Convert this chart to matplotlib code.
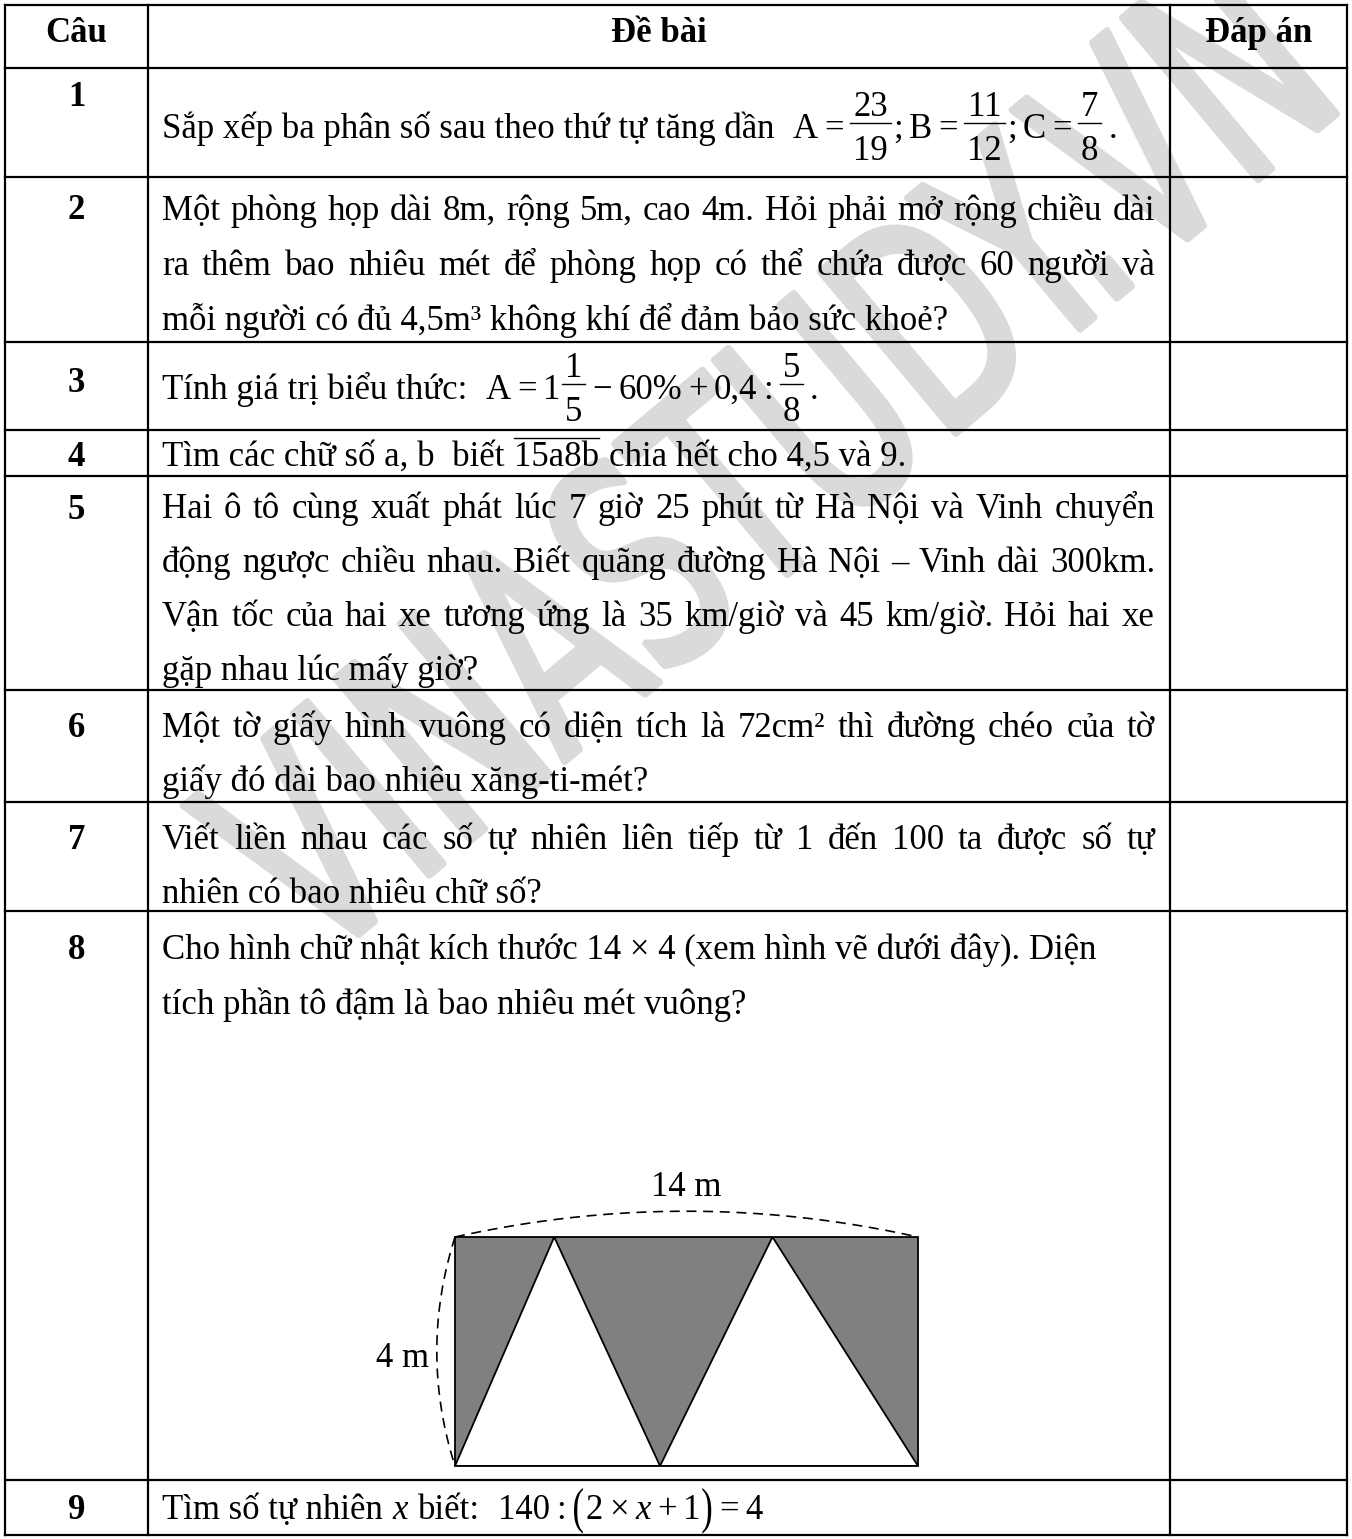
import numpy as np
import matplotlib.pyplot as plt
from matplotlib.textpath import TextPath
from matplotlib.patches import PathPatch, Polygon, Rectangle
from matplotlib.font_manager import FontProperties
from matplotlib.transforms import Affine2D

plt.rcParams['font.family'] = 'Liberation Serif'

W, H = 1352, 1539
FS = 25
EM = FS * 100 / 72

headers = ['Câu', 'Đề bài', 'Đáp án']
numbers = ['1', '2', '3', '4', '5', '6', '7', '8', '9']

# table layout (pixels)
col_edges = [5, 148, 1170, 1347]
row_edges = [5, 68, 177, 342, 430, 476, 690, 802, 911, 1480, 1535]

q1 = [('t', 'Sắp xếp ba phân số sau theo thứ tự tăng dần  '), ('m', 'A = '), ('f', '23', '19'),
      ('m', '; B = '), ('f', '11', '12'), ('m', '; C = '), ('f', '7', '8'), ('m', ' .')]
q2 = ['Một phòng họp dài 8m, rộng 5m, cao 4m. Hỏi phải mở rộng chiều dài',
      'ra thêm bao nhiêu mét để phòng họp có thể chứa được 60 người và',
      'mỗi người có đủ 4,5m³ không khí để đảm bảo sức khoẻ?']
q3 = [('t', 'Tính giá trị biểu thức:  '), ('m', 'A = 1'), ('f', '1', '5'),
      ('m', ' − 60% + 0,4 : '), ('f', '5', '8'), ('m', ' .')]
q4 = [('t', 'Tìm các chữ số a, b  biết '), ('o', '15a8b'), ('t', ' chia hết cho 4,5 và 9.')]
q5 = ['Hai ô tô cùng xuất phát lúc 7 giờ 25 phút từ Hà Nội và Vinh chuyển',
      'động ngược chiều nhau. Biết quãng đường Hà Nội – Vinh dài 300km.',
      'Vận tốc của hai xe tương ứng là 35 km/giờ và 45 km/giờ. Hỏi hai xe',
      'gặp nhau lúc mấy giờ?']
q6 = ['Một tờ giấy hình vuông có diện tích là 72cm² thì đường chéo của tờ',
      'giấy đó dài bao nhiêu xăng-ti-mét?']
q7 = ['Viết liền nhau các số tự nhiên liên tiếp từ 1 đến 100 ta được số tự',
      'nhiên có bao nhiêu chữ số?']
q8 = ['Cho hình chữ nhật kích thước 14 × 4 (xem hình vẽ dưới đây). Diện',
      'tích phần tô đậm là bao nhiêu mét vuông?']
q9 = [('t', 'Tìm số tự nhiên '), ('i', 'x'), ('t', ' biết:  '), ('m', '140 : '), ('p', '('),
      ('m', '2 × '), ('i', 'x'), ('m', ' + 1'), ('p', ')'), ('m', ' = 4')]

# figure for question 8 (metres)
rect_w, rect_h = 14, 4
bottom_x = [0, 6.2, 14]
top_x = [3.0, 9.6]
labels_fig = ['14 m', '4 m']

fig = plt.figure(figsize=(W / 100, H / 100), dpi=100)
ax = fig.add_axes([0, 0, 1, 1])
ax.set_xlim(0, W)
ax.set_ylim(H, 0)
ax.axis('off')
renderer = fig.canvas.get_renderer()
serif = FontProperties(family='Liberation Serif')


def put(x, y, s, ha='left', **kw):
    kw.setdefault('fontsize', FS)
    return ax.text(x, y, s, ha=ha, va='baseline', zorder=3, **kw)


def width(s, **kw):
    t = put(0, 0, s, **kw)
    w = t.get_window_extent(renderer).width
    t.remove()
    return w


SPACE = width('n n') - width('nn')


def draw_runs(x, y, runs):
    for kind, *val in runs:
        if kind in ('t', 'i', 'o'):
            s = val[0]
            kw = {'style': 'italic'} if kind == 'i' else {}
            lead = len(s) - len(s.lstrip(' '))
            trail = len(s) - len(s.rstrip(' '))
            core = s.strip(' ')
            x += lead * SPACE
            if core:
                put(x, y, core, **kw)
                w = width(core, **kw)
                if kind == 'o':
                    ax.plot([x, x + w], [y - 0.8 * EM, y - 0.8 * EM], color='k', lw=1, zorder=3)
                x += w + 1
            x += trail * SPACE
        elif kind == 'm':
            for k, tok in enumerate(val[0].split(' ')):
                if k > 0:
                    x += 0.6 * SPACE
                if tok:
                    put(x, y, tok)
                    x += width(tok) + 1
        elif kind == 'f':
            num, den = val
            wb = max(width(num), width(den)) + 6
            bar = y - 0.42 * EM
            ax.plot([x, x + wb], [bar, bar], color='k', lw=1, zorder=3)
            put(x + wb / 2, bar - 0.22 * EM, num, ha='center')
            put(x + wb / 2, bar + 1.05 * EM, den, ha='center')
            x += wb + 2
        elif kind == 'p':
            p = TextPath((0, 0), val[0], size=EM, prop=serif)
            tr = Affine2D().translate(0, -0.25 * EM).scale(1, -1.45).translate(x, y - 0.25 * EM)
            ax.add_patch(PathPatch(tr.transform_path(p), facecolor='k', edgecolor='none', zorder=3))
            x += p.get_extents().x1 + 3
    return x


def paragraph(lines, y, justify, x0=162, x1=1155, step=55):
    for k, line in enumerate(lines):
        yy = y + k * step
        if justify and k < len(lines) - 1:
            words = line.split(' ')
            ws = [width(w) for w in words]
            gap = (x1 - x0 - sum(ws)) / (len(words) - 1)
            x = x0
            for w, wd in zip(words, ws):
                put(x, yy, w)
                x += wd + gap
        else:
            put(x0, yy, line)


# grid
for yv in row_edges:
    ax.plot([col_edges[0], col_edges[-1]], [yv, yv], color='k', lw=1.6, zorder=2)
for xv in col_edges:
    ax.plot([xv, xv], [row_edges[0], row_edges[-1]], color='k', lw=1.6, zorder=2)

# header
for k, h in enumerate(headers):
    put((col_edges[k] + col_edges[k + 1]) / 2, 42, h, ha='center', fontweight='bold')

# question numbers
num_off = [38, 42, 50, 36, 43, 47, 47, 48, 39]
for k, n in enumerate(numbers):
    put((col_edges[0] + col_edges[1]) / 2, row_edges[k + 1] + num_off[k], n,
        ha='center', fontweight='bold')

x0 = 162
draw_runs(x0, row_edges[1] + 70, q1)
paragraph(q2, row_edges[2] + 43, True)
draw_runs(x0, row_edges[3] + 57, q3)
draw_runs(x0, row_edges[4] + 36, q4)
paragraph(q5, row_edges[5] + 42, True, step=54)
paragraph(q6, row_edges[6] + 47, True, step=54)
paragraph(q7, row_edges[7] + 47, True, step=54)
paragraph(q8, row_edges[8] + 48, False)
draw_runs(x0, row_edges[9] + 39, q9)

# diagram of question 8
dx = fig.add_axes([455 / W, 1 - 1466 / H, 463 / W, 229 / H])
dx.set_xlim(0, rect_w)
dx.set_ylim(0, rect_h)
dx.axis('off')
dx.add_patch(Rectangle((0, 0), rect_w, rect_h, facecolor='#808080', edgecolor='none'))
for k in range(2):
    tri = [(bottom_x[k], 0), (top_x[k], rect_h), (bottom_x[k + 1], 0)]
    dx.add_patch(Polygon(tri, closed=True, facecolor='white', edgecolor='k', lw=1.3))
dx.add_patch(Rectangle((0, 0), rect_w, rect_h, facecolor='none', edgecolor='k', lw=1.3,
                       clip_on=False))
t = np.linspace(0, 1, 80)
ctrl_top = (rect_w / 2, rect_h + 0.9)
ax_top = 2 * (1 - t) * t * ctrl_top[0] + t ** 2 * rect_w
ay_top = (1 - t) ** 2 * rect_h + 2 * (1 - t) * t * ctrl_top[1] + t ** 2 * rect_h
dx.plot(ax_top, ay_top, color='k', lw=1.2, dashes=(6, 4), clip_on=False)
ctrl_left = (-1.1, rect_h / 2)
ax_l = 2 * (1 - t) * t * ctrl_left[0]
ay_l = (1 - t) ** 2 * rect_h + 2 * (1 - t) * t * ctrl_left[1]
dx.plot(ax_l, ay_l, color='k', lw=1.2, dashes=(6, 4), clip_on=False)
dx.text(rect_w / 2, rect_h + 0.86, labels_fig[0], ha='center', va='center', fontsize=FS)
dx.text(-0.8, rect_h * 0.47, labels_fig[1], ha='right', va='center', fontsize=FS)

# watermark
wm = TextPath((0, 0), 'VINASTUDY.VN', size=290, prop=FontProperties(family='DejaVu Sans'))
ext = wm.get_extents()
tr = (Affine2D().translate(-(ext.x0 + ext.width / 2), -(ext.y0 + ext.height / 2))
      .scale(0.64, -1).rotate_deg(-40).translate(760, 460))
ax.add_patch(PathPatch(tr.transform_path(wm), facecolor='#dadada', edgecolor='#dadada',
                       lw=5, joinstyle='round', zorder=1))

fig.savefig('out.png', dpi=100, facecolor='white')
